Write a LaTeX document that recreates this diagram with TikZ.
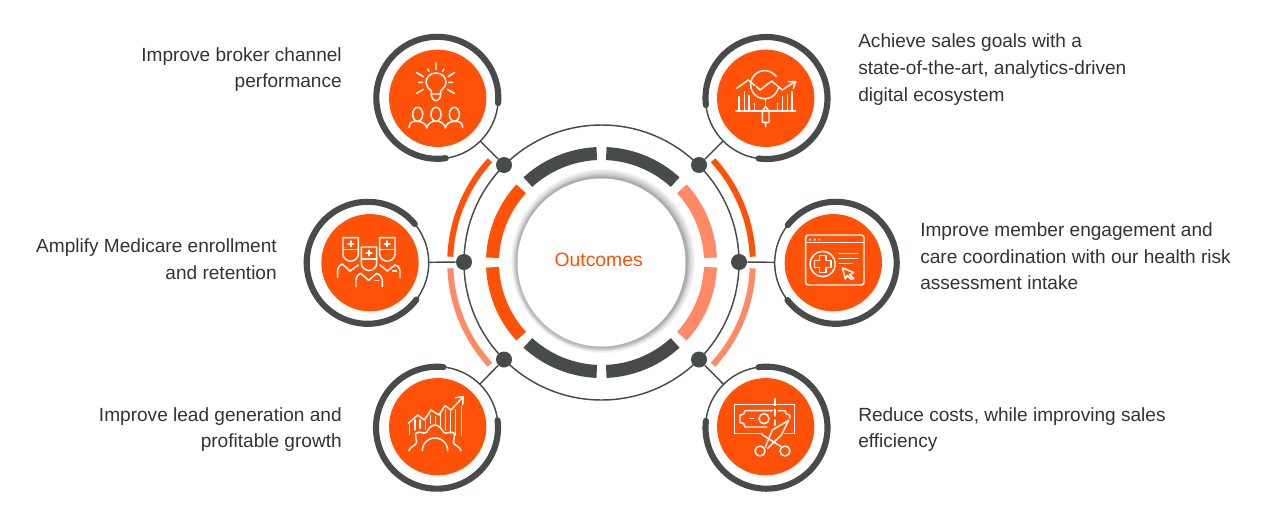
\documentclass[tikz,border=0pt]{standalone}
\usepackage{fontspec}
\setmainfont{Liberation Sans}
\definecolor{org}{HTML}{FF5208}
\definecolor{lorg}{HTML}{FF8A65}
\definecolor{drk}{HTML}{474C4B}
\definecolor{txt}{HTML}{333333}
\newcommand\garc[6]{\draw[#6] plot[domain=#4:#5,samples=90] ({#1+#3*cos(\x)},{#2-#3*sin(\x)});}
\newcommand\ring[7]{% cx cy thickstart thickend thinstart thinend name
  \garc{#1}{#2}{61}{#3}{#4}{drk,line width=4.6pt,line cap=round,line join=round}
  \garc{#1}{#2}{61}{#5}{#6}{drk,line width=1.1pt}
  \node[ringn] (#7) at (#1,#2) {};}
\tikzset{
  dotn/.style={circle,fill=drk,inner sep=0pt,minimum size=12pt},
  ringn/.style={circle,inner sep=0pt,minimum size=91.5pt},
  disc/.style={circle,fill=org,inner sep=0pt,minimum size=73pt},
  link/.style={drk,line width=1.1pt},
  lab/.style={text=txt,font=\fontsize{14.3}{20}\selectfont,inner sep=0pt},
  labr/.style={lab,anchor=east,align=right},
  labl/.style={lab,anchor=west,align=left},
  ic/.style={white,line width=1.1pt,line cap=round,line join=round},
  midarc/.style={line width=9.75pt},
  outarc/.style={line width=4.5pt}
}
\begin{document}
\begin{tikzpicture}[x=.75pt,y=-.75pt]
\useasboundingbox (0,0) rectangle (1280,518);
% central rings
\draw[drk,line width=1.1pt] (601.5,262.5) circle[radius=137.5];
\foreach \c/\a/\b in {drk/92.5/132.5,drk/47.5/87.5,drk/227.5/267.5,drk/272.5/312.5,org/137.5/177.5,org/182.5/222.5,lorg/2.5/42.5,lorg/317.5/357.5}{
  \garc{601.5}{262.5}{109}{\a}{\b}{\c,midarc}}
\foreach \c/\a/\b in {org/137.5/177.8,lorg/182.2/222.5,org/2.2/42.5,lorg/317.5/357.8}{
  \garc{601.5}{262.5}{151.3}{\a}{\b}{\c,outarc}}
% centre disc with soft shadow
\foreach \r in {92,91,90,89,88,87,86,85}{
  \fill[black,opacity=.035] (603,261) circle[radius=\r];}
\foreach \r in {88,87,86}{
  \fill[black,opacity=.04] (601.5,263) circle[radius=\r];}
\node[circle,fill=white,inner sep=0pt,minimum size=126pt] (hub) at (601.5,262.5) {};
\node[text=org,font=\fontsize{14.5}{18}\selectfont,inner sep=0pt] (title) at (598.7,260) {Outcomes};
% satellites
\ring{437.3}{97.8}{-5}{278}{-82}{-5}{r1}
\ring{766.5}{98}{-97.5}{186.7}{186.7}{262.5}{r2}
\ring{367.7}{262.8}{39.5}{323}{-37}{39.5}{r3}
\ring{835.7}{262.8}{217.7}{501.8}{141.8}{217.7}{r4}
\ring{437}{427.7}{84}{367}{7}{84}{r5}
\ring{766.5}{427.7}{173.5}{457.5}{97.5}{173.5}{r6}
\node[disc] (s1) at (437.7,98.3) {};
\node[disc] (s2) at (765.7,98.3) {};
\node[disc] (s3) at (370,262.7) {};
\node[disc] (s4) at (833.3,262.7) {};
\node[disc] (s5) at (437.7,426.7) {};
\node[disc] (s6) at (765.7,426.7) {};
% dots
\node[dotn] (d1) at (504,165) {};
\node[dotn] (d2) at (699,165) {};
\node[dotn] (d3) at (464,262) {};
\node[dotn] (d4) at (739,262) {};
\node[dotn] (d5) at (504,359.5) {};
\node[dotn] (d6) at (699,359.5) {};
\foreach \i in {1,...,6}{\draw[link] (d\i) -- (r\i);}
% icon 1
\begin{scope}[shift={(360,25)},x=.25pt,y=-.25pt,ic]
\draw (214,207) -- (214,198) .. controls (205,190) and (198,182) .. (198,172) .. controls (198,155) and (212,144) .. (228,144) .. controls (244,144) and (258,155) .. (258,172) .. controls (258,182) and (250,190) .. (242,198) -- (242,207) -- cycle;
\draw (214,207) .. controls (214,220) and (222,227) .. (228,227) .. controls (234,227) and (242,220) .. (242,207);
\draw (228,112)--(228,133) (170,143)--(190,155) (283,143)--(264,155) (170,205)--(190,193) (283,205)--(262,193) (203,132)--(207,139) (252,132)--(248,139) (176,172)--(188,172) (266,172)--(278,172);
\foreach \x in {173,228,283}{\draw (\x,268) ellipse[x radius=15,y radius=21];}
\draw (147,308) .. controls (147,292) and (160,286) .. (173,289) .. controls (187,290) and (198,297) .. (200,309) .. controls (202,296) and (215,288) .. (228,288) .. controls (241,288) and (254,296) .. (256,309) .. controls (258,297) and (270,289) .. (283,289) .. controls (296,287) and (308,292) .. (308,308);
\end{scope}
% icon 2
\begin{scope}[shift={(695,25)},x=.25pt,y=-.25pt,ic]
\draw plot[domain=35:345,samples=50] ({209+42*cos(\x)},{179-42*sin(\x)});
\draw (125,190)--(160,165)--(180,182);
\draw (185,185)--(195,195)--(230,168)--(262,195)--(300,170);
\draw (280,170)--(302,170)--(295,190);
\draw (122,258)--(302,258);
\foreach \x/\t in {132/215,148/200,162/212,178/235,248/235,262/215,277/210,291/200}{\draw (\x,\t)--(\x,258);}
\draw (212,222)--(212,245);
\draw (212,245)--(222,258)--(222,292)--(202,292)--(202,258)--cycle (212,292)--(212,305);
\end{scope}
% icon 3
\begin{scope}[shift={(300,190)},x=.25pt,y=-.25pt,ic]
\foreach \x/\y in {152/143,207/171,262/143}{
 \begin{scope}[shift={(\x,\y)}]
 \draw (-23,0)--(23,0)--(23,50) .. controls (23,62) and (10,70) .. (0,71) .. controls (-10,70) and (-23,62) .. (-23,50) -- cycle;
 \draw (-23,36)--(23,36);
 \draw[line width=1.3pt] (-8,18)--(8,18) (0,10)--(0,26);
 \end{scope}}
\draw (113,262)--(113,238) .. controls (113,230) and (120,225) .. (127,222) -- (150,243) -- (175,225);
\draw (168,290)--(168,268) .. controls (168,258) and (175,254) .. (182,250) -- (206,271) -- (230,250) .. controls (240,255) and (247,260) .. (247,270) -- (247,290);
\draw (240,225)--(262,243)--(285,225) .. controls (295,228) and (300,235) .. (300,242) -- (300,262);
\draw (225,272)--(236,272) (278,243)--(289,243);
\end{scope}
% icon 4
\begin{scope}[shift={(765,190)},x=.25pt,y=-.25pt,ic]
\draw[rounded corners=2pt] (122,135) rectangle (297,285);
\draw (122,158)--(297,158);
\foreach \x in {135,149,163}{\fill (\x,149) circle[radius=3.5];}
\draw (173,222) circle[radius=38];
\draw (163,197)--(183,197)--(183,212)--(198,212)--(198,232)--(183,232)--(183,247)--(163,247)--(163,232)--(148,232)--(148,212)--(163,212)--cycle;
\draw (222,190)--(278,190) (222,205)--(278,205) (222,220)--(262,220);
\draw (232,233)--(266,248)--(254,254)--(266,266)--(258,268)--(247,256)--(241,267)--cycle;
\end{scope}
% icon 5
\begin{scope}[shift={(365,355)},x=.25pt,y=-.25pt,ic]
\draw (130,205)--(158,180)--(178,195)--(198,165)--(222,180)--(240,152)--(258,165)--(292,128);
\draw (272,128)--(295,125)--(293,148);
\foreach \x/\a/\b in {133/210/238,150/195/225,165/195/220,182/200/222,197/182/205,212/185/205,227/175/212,242/165/225,257/170/235,272/165/240,290/155/240}{\draw (\x,\a)--(\x,\b);}
\draw (132,287) .. controls (134,275) and (152,272) .. (155,262) .. controls (156,252) and (148,245) .. (152,235) .. controls (165,225) and (175,240) .. (185,232) .. controls (190,222) and (198,210) .. (210,210) .. controls (222,210) and (230,222) .. (236,232) .. controls (245,240) and (255,225) .. (268,235) .. controls (272,245) and (264,252) .. (265,262) .. controls (268,272) and (286,275) .. (288,287);
\draw plot[domain=0:180,samples=30] ({210+38*cos(\x)},{287-38*sin(\x)});
\end{scope}
% icon 6
\begin{scope}[shift={(695,355)},x=.25pt,y=-.25pt,ic]
\draw (118,148)--(298,148)--(298,235)--(118,235)--cycle;
\draw (150,167)--(232,167) (150,167) .. controls (150,175) and (145,180) .. (135,180) -- (135,203) .. controls (145,203) and (150,208) .. (150,216) -- (215,216) (250,167)--(270,167) .. controls (270,175) and (275,180) .. (284,180) -- (284,190);
\draw (207,191) circle[radius=15];
\draw (165,191)--(176,191);
\draw[dash pattern=on 5pt off 3pt] (240,131)--(240,235);
\fill[org] (205,225)--(280,197)--(280,225)--(225,272)--(200,250)--cycle;
\draw (281,196)--(232,225)--(211,276) (281,196)--(259,240)--(217,281);
\draw (200,238)--(257,274);
\draw (195,288) circle[radius=15];
\draw (270,288) circle[radius=15];
\end{scope}
% labels
\node[labr] (t1) at (342,69.5) {Improve broker channel\\performance};
\node[labl] (t2) at (858,69.5) {Achieve sales goals with a\\state-of-the-art, analytics-driven\\digital ecosystem};
\node[labr] (t3) at (277,259) {Amplify Medicare enrollment\\and retention};
\node[labl] (t4) at (920,256.5) {Improve member engagement and\\care coordination with our health risk\\assessment intake};
\node[labr] (t5) at (342,429.5) {Improve lead generation and\\profitable growth};
\node[labl] (t6) at (858,429.5) {Reduce costs, while improving sales\\efficiency};
\end{tikzpicture}
\end{document}
